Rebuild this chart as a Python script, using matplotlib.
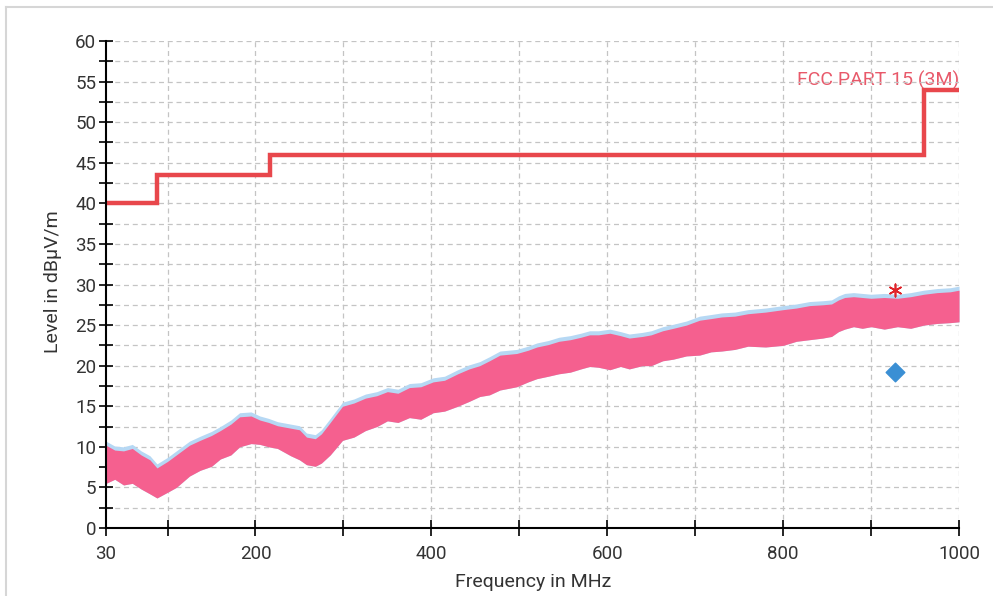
import matplotlib.pyplot as plt
from matplotlib.lines import Line2D
from matplotlib.ticker import MultipleLocator, FixedLocator

plt.rcParams['font.family'] = ['Roboto', 'DejaVu Sans']

# limit line (FCC Part 15, 3 m)
limit_freq = [30, 88, 88, 216, 216, 960, 960, 1000]
limit_level = [40, 40, 43.5, 43.5, 46, 46, 54, 54]

trace_freq = [30, 40, 50, 60, 70, 80, 88, 100, 110, 125, 137, 150, 160, 172, 182,
              195, 205, 215, 225, 240, 250, 258, 268, 275, 285, 299, 312, 325,
              338, 350, 362, 375, 388, 402, 415, 430, 443, 455, 466, 478, 497,
              510, 520, 533, 545, 558, 570, 580, 590, 603, 615, 625, 640, 650,
              663, 675, 690, 705, 718, 730, 745, 760, 780, 800, 815, 830, 845,
              855, 863, 870, 880, 890, 900, 915, 930, 945, 960, 975, 990, 1000]
trace_low = [5.5, 6.0, 5.3, 5.5, 4.8, 4.2, 3.7, 4.4, 5.0, 6.4, 7.1, 7.6, 8.5, 9.0, 10.0,
             10.4, 10.3, 10.0, 9.8, 8.9, 8.4, 7.8, 7.6, 8.0, 9.0, 10.8, 11.2, 12.0,
             12.5, 13.2, 13.0, 13.6, 13.4, 14.2, 14.4, 15.0, 15.6, 16.2, 16.4, 17.0, 17.4,
             18.0, 18.4, 18.7, 19.0, 19.2, 19.6, 19.9, 19.8, 19.5, 19.9, 19.6, 20.0, 20.0,
             20.6, 20.8, 21.2, 21.3, 21.7, 21.8, 22.0, 22.4, 22.3, 22.5, 23.0, 23.2, 23.4,
             23.6, 24.2, 24.5, 24.8, 24.6, 24.8, 24.5, 24.8, 24.6, 25.0, 25.2, 25.3, 25.4]
trace_high = [10.2, 9.6, 9.5, 9.8, 9.0, 8.4, 7.4, 8.2, 9.0, 10.2, 10.8, 11.4, 12.0, 12.8, 13.7,
              13.8, 13.3, 13.0, 12.6, 12.3, 12.1, 11.2, 11.0, 11.6, 13.0, 15.0, 15.4, 16.0,
              16.3, 16.8, 16.6, 17.3, 17.4, 18.0, 18.2, 19.0, 19.6, 20.0, 20.6, 21.3, 21.5,
              21.9, 22.3, 22.6, 23.0, 23.2, 23.5, 23.8, 23.8, 24.0, 23.7, 23.4, 23.6, 23.8,
              24.3, 24.6, 25.0, 25.6, 25.8, 26.0, 26.1, 26.4, 26.6, 26.9, 27.1, 27.4, 27.5,
              27.6, 28.1, 28.4, 28.5, 28.4, 28.3, 28.4, 28.3, 28.5, 28.8, 29.0, 29.1, 29.3]

# final measurement points
qp_freq = [927]
qp_level = [19.2]
pk_freq = [927]
pk_level = [29.3]

fig = plt.figure(figsize=(9.93, 5.96), dpi=100)
ax = fig.add_axes([0.1067, 0.1141, 0.8591, 0.8171])

ax.fill_between(trace_freq, trace_low, [v + 0.5 for v in trace_high],
                color='#b6d8f4', lw=0, zorder=2)
ax.fill_between(trace_freq, trace_low, trace_high, color='#f5608f', lw=0, zorder=3)

ax.plot(limit_freq, limit_level, color='#e8474c', lw=3.2, zorder=4,
        solid_joinstyle='miter')
# label sits under the grid, as in the original
ax.text(1000, 55.1, 'FCC PART 15 (3M)', color='#e8596a', fontsize=14,
        ha='right', va='center', zorder=0.5)

ax.scatter(qp_freq, qp_level, marker='D', s=90, color='#3a8fd4', zorder=6)
ax.scatter(pk_freq, pk_level, marker=(6, 2, 0), s=80, color='#e0242a', lw=1.2, zorder=6)

ax.set_xlim(30, 1000)
ax.set_ylim(0, 60)
ax.xaxis.set_major_locator(FixedLocator([30, 200, 400, 600, 800, 1000]))
ax.xaxis.set_minor_locator(FixedLocator([100, 300, 500, 700, 900]))
ax.yaxis.set_major_locator(MultipleLocator(5))
ax.yaxis.set_minor_locator(MultipleLocator(2.5))

ax.tick_params(which='both', direction='inout', color='black', width=1.2,
               labelsize=13.5, labelcolor='#333333')
ax.tick_params(axis='x', which='both', length=12, pad=6)
ax.tick_params(axis='y', which='both', length=10, pad=2)

grid_kw = dict(color='#c4c4c4', lw=0.9, ls=(0, (4, 3)), zorder=1)
for f in [100, 200, 300, 400, 500, 600, 700, 800, 900, 1000]:
    ax.axvline(f, **grid_kw)
for k in range(1, 25):
    ax.axhline(k * 2.5, **grid_kw)

for s in ['top', 'right']:
    ax.spines[s].set_visible(False)
for s in ['left', 'bottom']:
    ax.spines[s].set_color('black')
    ax.spines[s].set_linewidth(1.5)
    ax.spines[s].set_zorder(7)

ax.set_xlabel('Frequency in MHz', fontsize=14, color='#333333')
ax.set_ylabel('Level in dBµV/m', fontsize=14, color='#333333')
ax.xaxis.set_label_coords(0.5006, -0.092)
ax.yaxis.set_label_coords(-0.051, 0.506)

# light frame around the panel
fig.add_artist(Line2D([6 / 993, 1], [1 - 7 / 596, 1 - 7 / 596],
                      color='#d6d6d6', lw=1.5, transform=fig.transFigure))
fig.add_artist(Line2D([6 / 993, 6 / 993], [0, 1 - 7 / 596],
                      color='#d6d6d6', lw=1.5, transform=fig.transFigure))

fig.savefig('out.png', dpi=100)
